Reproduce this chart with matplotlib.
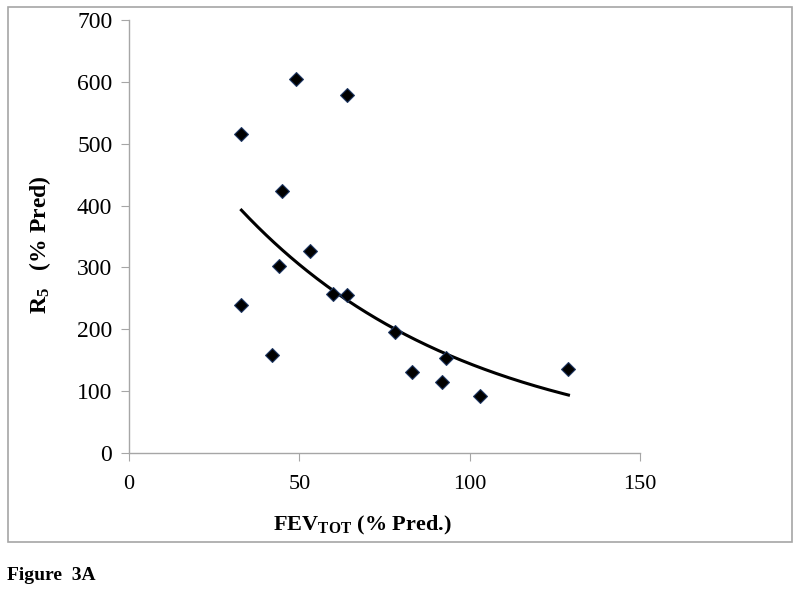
import numpy as np
import matplotlib
matplotlib.use("Agg")
import matplotlib.pyplot as plt
from matplotlib.patches import Rectangle

fev = [33, 33, 42, 44, 45, 49, 53, 60, 64, 64, 78, 83, 92, 93, 103, 129]
r5 = [515, 239, 159, 302, 423, 605, 327, 257, 255, 578, 195, 131, 115, 153, 92, 136]
xticks = [0, 50, 100, 150]
yticks = [0, 100, 200, 300, 400, 500, 600, 700]

plt.rcParams['font.family'] = ['Liberation Serif', 'DejaVu Serif']
plt.rcParams['mathtext.fontset'] = 'custom'
plt.rcParams['mathtext.rm'] = 'Liberation Serif'
plt.rcParams['mathtext.bf'] = 'Liberation Serif:bold'
plt.rcParams['mathtext.it'] = 'Liberation Serif:italic'

W, H = 800, 597
fig = plt.figure(figsize=(W / 100, H / 100), dpi=100)

# outer chart frame
fig.patches.append(Rectangle((8 / W, 1 - 542 / H), (792 - 8) / W, (542 - 7) / H,
                             transform=fig.transFigure, fill=False,
                             edgecolor='#a6a6a6', linewidth=1.2))

ax = fig.add_axes([129 / W, 1 - 453 / H, (640 - 129) / W, (453 - 20) / H])
ax.set_xlim(0, 150)
ax.set_ylim(0, 700)
ax.set_xticks(xticks)
ax.set_yticks(yticks)
for s in ['top', 'right']:
    ax.spines[s].set_visible(False)
for s in ['left', 'bottom']:
    ax.spines[s].set_color('#a6a6a6')
    ax.spines[s].set_linewidth(1.0)
ax.tick_params(axis='both', direction='out', length=6, color='#a6a6a6', pad=6)
ax.tick_params(axis='x', labelsize=16, pad=10)
ax.tick_params(axis='y', labelsize=17, pad=6)

# exponential trendline fitted to data
x = np.array(fev, dtype=float)
y = np.array(r5, dtype=float)
b, lna = np.polyfit(x, np.log(y), 1)
xs = np.linspace(x.min(), x.max(), 200)
ax.plot(xs, np.exp(lna) * np.exp(b * xs), color='black', linewidth=2.2, zorder=2)

ax.scatter(fev, r5, marker='D', s=50, color='black', edgecolors='#1f3864',
           linewidths=0.8, zorder=3, clip_on=False)

fig.text(362 / W, 1 - 525 / H, r'FEV$_{\mathbf{TOT}}$ (% Pred.)', fontsize=16,
         fontweight='bold', ha='center', va='center')
fig.text(40 / W, 1 - 245 / H, r'R$_{\mathbf{5}}$   (% Pred)', fontsize=17,
         fontweight='bold', ha='center', va='center', rotation=90)
fig.text(7 / W, 1 - 576 / H, 'Figure  3A', fontsize=14, fontweight='bold',
         ha='left', va='center')

fig.savefig('out.png', dpi=100)
